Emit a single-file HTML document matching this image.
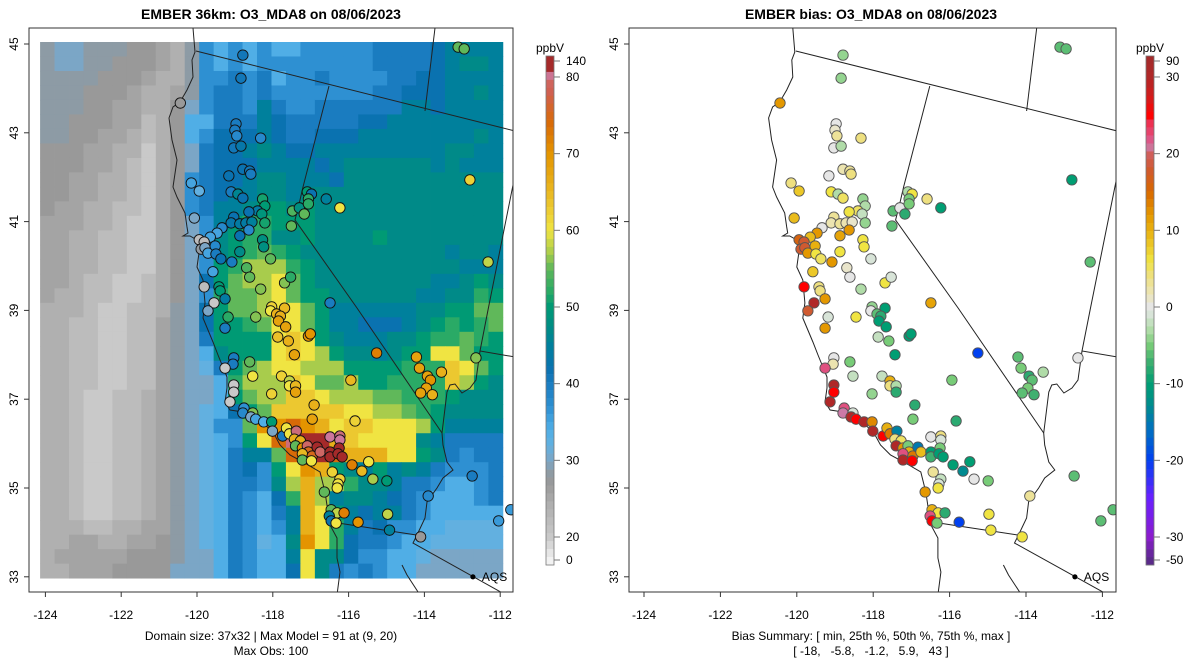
<!DOCTYPE html>
<html><head><meta charset="utf-8"><style>
html,body{margin:0;padding:0;background:#fff}
svg{display:block;font-family:"Liberation Sans",sans-serif}
</style></head><body>
<svg id="chart" width="1200" height="672" viewBox="0 0 1200 672">
<defs>
<clipPath id="clipL"><rect x="29" y="28" width="484" height="564"/></clipPath>
<clipPath id="clipR"><rect x="629" y="28" width="487" height="564"/></clipPath>
</defs>
<rect width="1200" height="672" fill="#fff"/>
<text x="271" y="19" text-anchor="middle" font-size="14" font-weight="bold">EMBER 36km: O3_MDA8 on 08/06/2023</text>
<text x="871" y="19" text-anchor="middle" font-size="14" font-weight="bold">EMBER bias: O3_MDA8 on 08/06/2023</text>
<g id="leftPanel"></g>
<g id="rightPanel"></g>
<g id="legends"></g>
<text x="271" y="640" text-anchor="middle" font-size="12">Domain size: 37x32 | Max Model = 91 at (9, 20)</text>
<text x="271" y="655" text-anchor="middle" font-size="12">Max Obs: 100</text>
<text x="871" y="640" text-anchor="middle" font-size="12">Bias Summary: [ min, 25th %, 50th %, 75th %, max ]</text>
<text x="871" y="655" text-anchor="middle" font-size="12" xml:space="preserve">[ -18,   -5.8,   -1.2,   5.9,   43 ]</text>
</svg>
<script>
const gridCodes = "ABCDEFGHIJKLMNOPQRSTUVWXY";
const gridCodeValues = [20,22,24,25.5,27,28.5,30,32,34,37,40,42,45,47,50,52,55,57,60,63,66,70,74,82,90];
const gridRows = [
"FGGFFFEEDCFJIJIJIIJJJJJKKKKLMMMM",
"FGGFFEEEDCFJIJIJJJJJJJJKKKKLMNNM",
"FFFFEEEDCCFJJKJKIJJKJJJJKKLLMMMM",
"FFFEEEDCCDFJKKJKJJJJJJJKKLLLMMNM",
"FFFEEDDCCEGJKKJMKJJKKKKKKMMLMMMM",
"FFEEEDDBCEIIKKKMLKKKKKLLMMMMMMMM",
"FFEEDDCBCEIJLLLMLKKLLLMMMMMMMMNM",
"EEEDDCCACEGKLLMNMLLMMMMMMMMMNNMM",
"EEEDDCBACEGKLLLMMMMLMNNNNNNMNMMM",
"EEDDCCBACEJKLLMNNMMMLNNNNNNNNNNN",
"EEDDCCBACEJKLMMNNMNNNNNNNNNNNNNN",
"EDDCCBBACEJKMMNOONONNNNNNNNNNNNN",
"DDDCCBAACEGJMOPPOOONNNNNNNNNNNNN",
"DDCCBBAACEGJNOPPNNONNNNONNNNNNNN",
"DDCCBBAACEGJNOPQPONNNNNNNNNNMNNM",
"DDCCBBAACEGJOPRRRPONNNNNNNNNNMMM",
"DDCBBAABCEGLOQRRSQONNNNNNNNMMNON",
"DCCBBAABCEGJPQQRSQOONNNNNNMMNNPO",
"CCCBAABBCFGLOQQRSSQOMMMMMMNNOOQQ",
"CCBBAABBDFGLOOPQSSQOMMLLLMNOPOPQ",
"CCBBAABBDFGKOOOOSTSONMMMNNOPPQPO",
"CCBBAABBDFGINOOOSTSRONNMNOOSSQOO",
"CCBBAABBDFGHKOQRSSRRROOOOPPPTSQO",
"CCBBAABBDFGGIPRRRTSQQROOPPPPTRON",
"CCBAABBCDFGGIOQRRTTSRRRQQPPPONNN",
"CCBAABBCDFGHILOQTTTTTSSRRQPONNNN",
"CCBAABBCDFGHJJQVVWVUSTTSSSROMMMM",
"CCBAABBCDFGHIJOSWXYYUTSSSSNMKKKK",
"CCBAABBCDFGHIKMMQWYYWUUUSSONKJKK",
"CCBAABBCDFGHIKLJOSVUONMOMNMKJJJK",
"CCBAABBCDFGHIKKJNRURRPNNMKKJIIJK",
"CCBAABBCDFGHIKJILPURMNNMLKJIIIJK",
"CCBAABBCDFGHIKJIKMUSOMLMMKJIIIII",
"CCCBBCCDDFGHIKJIJMUSPMKLJJIIHHHH",
"CCDDCCDDEFGHIKJHINVSPLKKJIIHHHHH",
"CDDDDDEEEFGGIKJIIMSNNLJJIIHGGGGG",
"CCDDDEEEEGGGIKJIILSNKJKJIIGGGGGG"
];
const gridLonMin = -124.14, gridLonMax = -111.93, gridLatMax = 45.045, gridLatMin = 32.97;

const siteLon = [-118.79,-118.84,-120.44,-118.97,-119.00,-118.95,-119.03,-118.84,-118.32,-118.79,-118.61,-118.58,-119.16,-120.15,-119.94,-119.10,-118.92,-118.79,-118.27,-118.21,-118.40,-118.29,-118.63,-119.03,-119.10,-118.87,-118.71,-118.55,-118.21,-118.63,-119.34,-119.47,-120.07,-119.65,-119.94,-119.81,-119.89,-119.79,-119.71,-119.52,-119.50,-119.37,-118.87,-118.87,-119.08,-118.27,-118.24,-119.58,-118.06,-118.69,-118.61,-119.81,-119.42,-119.39,-119.26,-119.55,-119.71,-119.18,-119.26,-118.45,-118.32,-117.69,-117.53,-116.49,-118.03,-117.69,-118.06,-117.90,-117.80,-117.85,-117.66,-117.48,-117.30,-117.17,-117.09,-116.98,-117.06,-117.06,-116.59,-116.23,-117.51,-117.87,-117.59,-117.06,-117.01,-117.43,-115.26,-119.03,-119.05,-119.26,-118.61,-118.53,-117.77,-117.56,-117.56,-117.40,-117.40,-115.94,-119.03,-119.03,-118.03,-119.13,-116.91,-116.96,-115.83,-118.76,-118.79,-118.53,-118.58,-118.45,-118.24,-118.03,-118.01,-117.74,-117.64,-117.56,-117.38,-117.43,-117.27,-117.40,-117.22,-117.09,-117.06,-117.22,-116.96,-117.22,-116.98,-116.83,-116.75,-116.49,-116.23,-116.23,-116.25,-116.49,-116.49,-116.28,-116.17,-115.91,-115.65,-115.47,-116.43,-116.23,-116.28,-116.30,-115.36,-114.99,-116.64,-116.46,-116.30,-116.12,-116.51,-116.46,-116.33,-115.75,-114.97,-114.92,-113.11,-112.95,-112.80,-112.32,-114.21,-114.13,-113.92,-113.84,-113.95,-113.79,-113.55,-114.10,-112.64,-112.74,-113.90,-114.10,-112.04,-111.72];
const siteLat = [44.75,44.23,43.67,43.20,43.06,42.93,42.66,42.70,42.88,42.18,42.14,42.07,42.03,41.87,41.69,41.67,41.62,41.53,41.51,41.35,41.24,41.17,41.22,41.10,40.97,40.95,40.97,40.99,40.97,40.81,40.86,40.74,41.08,40.65,40.59,40.54,40.38,40.41,40.29,40.45,40.27,40.16,40.68,40.32,40.09,40.59,40.43,39.87,40.16,39.96,39.75,39.53,39.53,39.44,39.26,39.17,38.99,38.85,38.60,38.85,39.48,39.62,39.75,39.17,39.08,39.05,38.99,38.92,38.87,38.76,38.63,41.24,41.31,41.17,41.67,41.62,41.51,41.40,41.51,41.31,40.90,38.40,38.31,38.42,38.47,38.00,38.04,37.93,37.79,37.70,37.84,37.52,37.52,37.41,37.30,37.30,37.16,37.43,37.32,37.16,37.12,36.94,36.87,36.55,36.51,36.80,36.69,36.69,36.60,36.55,36.49,36.49,36.28,36.17,36.35,36.22,36.28,36.10,36.06,35.95,35.90,35.95,35.81,35.77,35.72,35.63,35.61,35.92,35.81,36.15,36.17,36.08,35.90,35.81,35.70,35.77,35.70,35.52,35.38,35.59,35.36,35.20,35.09,35.00,35.20,35.16,34.91,34.51,34.44,34.44,34.37,34.26,34.21,34.23,34.41,34.05,44.93,44.89,41.94,40.09,37.95,37.70,37.52,37.43,37.25,37.10,37.61,37.14,37.93,35.27,34.82,33.90,34.26,34.51];
const siteObs = [41,41,27,40,40,38,41,43,38,42,41,40,42,35,32,40,46,42,51,50,44,49,42,42,43,44,44,45,51,38,38,35,30,35,22,22,28,30,35,38,40,42,42,47,40,48,48,35,55,54,55,22,50,50,44,20,30,52,40,56,56,56,52,40,62,65,60,66,66,68,68,54,48,55,50,42,52,52,45,60,55,64,66,70,70,68,72,40,40,20,55,60,62,58,60,65,68,65,20,20,62,20,66,68,62,37,38,56,30,35,34,50,30,40,60,60,82,66,66,55,70,80,75,65,75,55,60,100,80,85,82,85,90,92,90,95,95,72,65,60,62,62,60,60,57,50,55,55,58,72,45,42,60,70,58,45,55,55,62,58,68,68,68,70,68,66,66,68,56,40,38,27,36,36];
const siteBias = [-4,-4,12,0,1,3,0,-3,4,2,3,4,0,4,8,6,-3,5,-4,-3,5,-2,6,3,2,3,2,1,-4,12,0,12,9,9,16,18,18,18,12,10,6,5,11,6,12,6,6,8,-1,1,0,25,4,4,12,30,18,-1,12,6,-3,6,-1,11,-4,-10,0,-6,-8,-10,-10,-6,0,-8,-3,6,-5,-5,4,-10,-6,-2,-5,-10,-10,-10,-20,0,2,22,-5,-2,-2,10,4,-3,-8,-5,30,25,-4,30,-8,-5,-8,22,21,-1,30,25,30,13,30,25,10,14,-14,4,5,30,12,-5,10,22,14,30,25,-15,9,0,4,-1,-5,-10,-7,-10,-10,-10,-13,-10,3,-2,-1,6,0,-5,12,10,6,-8,22,25,-5,-20,6,6,-6,-6,-10,-6,-6,-5,-8,-6,-5,-7,-3,-6,0,-6,3,6,-6,-6];
const aqsLon = -112.72, aqsLat = 33.0;

const lonTicks = [-124,-122,-120,-118,-116,-114,-112];
const latTicks = [33,35,37,39,41,43,45];
const obsLegendTicks = [140,80,70,60,50,40,30,20,0];
const biasLegendTicks = [90,30,20,10,0,-10,-20,-30,-50];

const NS = "http://www.w3.org/2000/svg";
function mk(tag, attrs, parent){const e=document.createElementNS(NS,tag);for(const k in attrs)e.setAttribute(k,attrs[k]);if(parent)parent.appendChild(e);return e;}
const panels = {
  left:{x0:45.4,sx:37.9,box:[29,28,513,592],clip:"url(#clipL)",g:document.getElementById("leftPanel")},
  right:{x0:644,sx:38.2,box:[629,28,1116,592],clip:"url(#clipR)",g:document.getElementById("rightPanel")}
};
function xScale(p,lon){return p.x0+(lon+124)*p.sx;}
function yScale(lat){return 44+(45-lat)*44.4;}

function hexToRgb(h){return [parseInt(h.substr(1,2),16),parseInt(h.substr(3,2),16),parseInt(h.substr(5,2),16)];}
function interp(stops,v){
  if(v<=stops[0][0])return stops[0][1];
  for(let i=1;i<stops.length;i++){
    if(v<=stops[i][0]){
      const t=(v-stops[i-1][0])/(stops[i][0]-stops[i-1][0]);
      const a=hexToRgb(stops[i-1][1]),b=hexToRgb(stops[i][1]);
      return "rgb("+a.map((c,j)=>Math.round(c+(b[j]-c)*t)).join(",")+")";
    }
  }
  return stops[stops.length-1][1];
}
const obsStops=[[0,'#f2f2f2'],[20,'#c9c9c9'],[22,'#bcbcbc'],[24,'#b0b0b0'],[25.5,'#a4a4a4'],[27,'#999999'],[28.5,'#8d9ba5'],[30,'#7ba6c6'],[32,'#62b0e0'],[34,'#50aee6'],[37,'#2e90d2'],[40,'#1a7cc0'],[42,'#0a72b0'],[45,'#00809c'],[47,'#008a88'],[50,'#009a74'],[52,'#2aaa66'],[55,'#60b85a'],[57,'#a8cc4c'],[60,'#f0e442'],[63,'#ecc830'],[66,'#e8b01a'],[70,'#e49400'],[74,'#d86a08'],[78,'#d06050'],[82,'#cc6d7a'],[86,'#cc79a7'],[90,'#a52a2a'],[140,'#a52a2a']];
const biasStops=[[-50,'#5a2a8a'],[-30,'#8a1ccc'],[-25,'#6a20ff'],[-20,'#0040f0'],[-16,'#0070c0'],[-13,'#008a90'],[-10,'#009e73'],[-7,'#40b070'],[-5,'#78cc78'],[-3,'#b0dca8'],[-1,'#d8e4d8'],[0,'#e6e6e6'],[2,'#ece4b0'],[4,'#eee080'],[6,'#f0e442'],[8,'#ecc828'],[10,'#e8b010'],[12,'#e49800'],[15,'#d86800'],[18,'#d05a30'],[20,'#d06060'],[21,'#cc79a7'],[22,'#e05080'],[24,'#ee3050'],[25,'#ff0000'],[27,'#d81818'],[30,'#b02828'],[90,'#a52a2a']];
const obsColor=v=>interp(obsStops,v), biasColor=v=>interp(biasStops,v);

const geoPx = [
 [[193,28],[195,52],[192,60],[193,77],[187,90],[180,102],[173,107],[169,118],[172,140],[177,160],[173,187],[177,197],[185,213],[187,227],[188,233],[183,236],[190,236],[197,240],[199,253],[197,267],[203,280],[205,303],[203,318],[213,342],[218,355],[227,377],[227,388],[225,402],[230,410],[243,412],[257,418],[273,432],[280,445],[290,455],[303,462],[320,472],[325,492],[328,512],[330,525],[337,538],[337,558],[340,572],[337,595]],
 [[196,51],[515,131]],
 [[329,86],[303,187],[300,200],[295,220],[357,308],[442,433]],
 [[435,28],[425,111]],
 [[515,175],[488,310],[480,351],[515,357]],
 [[480,351],[476,380],[470,388],[462,393],[455,384],[450,385],[447,392],[442,433],[443,445],[447,462],[453,470],[443,478],[437,488],[427,502],[425,518],[417,535],[413,543],[515,600]],
 [[338,523],[423,536]],
 [[402,565],[407,575],[420,595]]
];
const geoLines = geoPx.map(l=>l.map(p=>[-124+(p[0]-45.4)/37.9, 45-(p[1]-44)/44.4]));

function drawAxes(p, side){
  const g=p.g,[x1,y1,x2,y2]=p.box;
  lonTicks.forEach(t=>{
    const x=xScale(p,t);
    const tk=mk("line",{x1:x,y1:y2,x2:x,y2:y2+5,stroke:"#333","stroke-width":1},g);
    
    
    const tx=mk("text",{x:x,y:619,"text-anchor":"middle","font-size":12},g);
    tx.textContent=String(t);
    
    
  });
  latTicks.forEach(t=>{
    const y=yScale(t);
    const tk=mk("line",{x1:x1-5,y1:y,x2:x1,y2:y,stroke:"#333","stroke-width":1},g);
    
    
    const tx=mk("text",{x:x1-11,y:y,"text-anchor":"middle","font-size":12,transform:"rotate(-90 "+(x1-11)+" "+y+")"},g);
    tx.textContent=String(t);
    
    
  });
  const bx=mk("rect",{x:x1,y:y1,width:x2-x1,height:y2-y1,fill:"none",stroke:"#333","stroke-width":1},g);
  
  
}

function drawGeo(p, side){
  const gg=mk("g",{"clip-path":p.clip},p.g);
  
  
  geoLines.forEach(l=>{
    const pl=mk("polyline",{points:l.map(q=>xScale(p,q[0]).toFixed(1)+","+yScale(q[1]).toFixed(1)).join(" "),fill:"none",stroke:"#222","stroke-width":1},gg);
    
    
  });
}

function drawSites(p, side, values, colorFn, stroke){
  const gs=mk("g",{"clip-path":p.clip},p.g);
  
  
  siteLon.forEach((lon,i)=>{
    const c=mk("circle",{cx:xScale(p,lon),cy:yScale(siteLat[i]),r:5.2,fill:colorFn(values[i]),stroke:stroke,"stroke-width":0.9},gs);
    
    
  });
  const ax=xScale(p,aqsLon),ay=yScale(aqsLat);
  const d=mk("circle",{cx:ax,cy:ay,r:2.6,fill:"#000"},p.g);
  
  
  const t=mk("text",{x:ax+9,y:ay+4,"font-size":12},p.g);
  t.textContent="AQS";
  
  
}

(function(){
  const p=panels.left;
  const gg=mk("g",{},p.g);
  
  
  const nr=gridRows.length,nc=gridRows[0].length;
  const dLon=(gridLonMax-gridLonMin)/nc,dLat=(gridLatMax-gridLatMin)/nr;
  gridRows.forEach((row,r)=>{
    for(let c=0;c<nc;c++){
      const v=gridCodeValues[gridCodes.indexOf(row[c])];
      const xa=xScale(p,gridLonMin+c*dLon),xb=xScale(p,gridLonMin+(c+1)*dLon);
      const ya=yScale(gridLatMax-r*dLat),yb=yScale(gridLatMax-(r+1)*dLat);
      const rc=mk("rect",{x:xa.toFixed(2),y:ya.toFixed(2),width:(xb-xa+0.4).toFixed(2),height:(yb-ya+0.4).toFixed(2),fill:obsColor(v)},gg);
      
      
    }
  });
})();
drawGeo(panels.left,'left');
drawSites(panels.left,'left',siteObs,obsColor,"#111");
drawAxes(panels.left,'left');
drawGeo(panels.right,'right');
drawSites(panels.right,'right',siteBias,biasColor,"#555");
drawAxes(panels.right,'right');

function obsLegendY(v){ if(v<=20) return 560-(v/20)*23; if(v<=80) return 537-(v-20)*7.667; return 77-(v-80)/60*16; }
function biasLegendY(v){ if(v<=-30) return 537+(-30-v)/20*23; if(v<=30) return 537-(v+30)*7.667; return 77-(v-30)/60*16; }
function drawBar(x, ticks, yFn, colorFn, vmin, vmax, name){
  const lg=document.getElementById("legends");
  const g=mk("g",{},lg);
  
  
  const top=56,bot=565,n=64,h=(bot-top)/n;
  for(let i=0;i<n;i++){
    const yc=top+(i+0.5)*h;
    let lo=vmin,hi=vmax;
    for(let k=0;k<30;k++){const m=(lo+hi)/2; if(yFn(m)>yc) lo=m; else hi=m;}
    const r=mk("rect",{x:x,y:(top+i*h).toFixed(2),width:8,height:(h+0.3).toFixed(2),fill:colorFn((lo+hi)/2)},g);
    
    
  }
  const b=mk("rect",{x:x,y:top,width:8,height:bot-top,fill:"none",stroke:"#777","stroke-width":0.8},g);
  
  
  ticks.forEach(t=>{
    const y=yFn(t);
    const l=mk("line",{x1:x+8,y1:y,x2:x+14,y2:y,stroke:"#777","stroke-width":1},g);
    
    
    const tx=mk("text",{x:x+20,y:y+4,"font-size":12},g);
    tx.textContent=String(t);
    
    
  });
  const u=mk("text",{x:x+4,y:52,"text-anchor":"middle","font-size":12},g);
  u.textContent="ppbV";
  
  
}
drawBar(546,obsLegendTicks,obsLegendY,obsColor,0,140,'obs-colorbar');
drawBar(1146,biasLegendTicks,biasLegendY,biasColor,-50,90,'bias-colorbar');
</script>
</body></html>
